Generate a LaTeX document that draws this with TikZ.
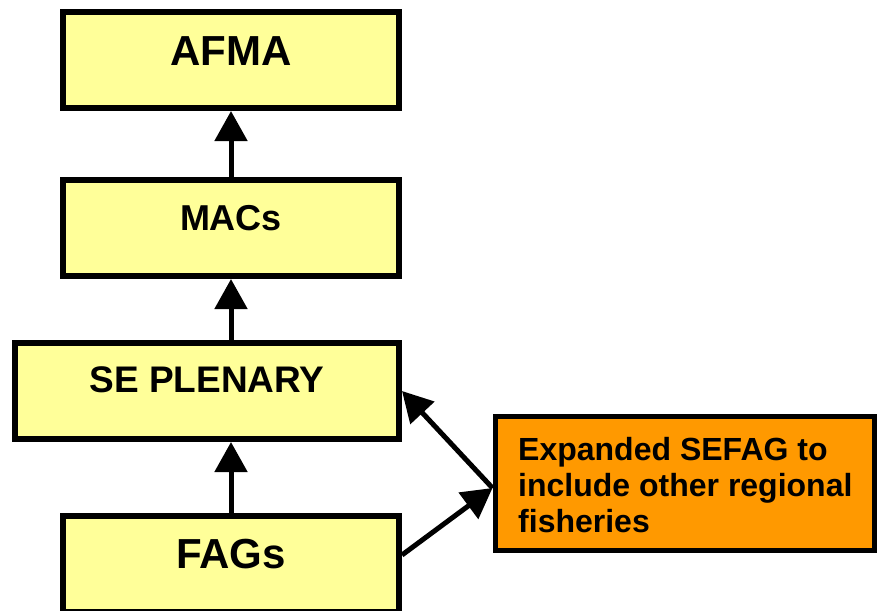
\documentclass[tikz,border=0pt]{standalone}
\usepackage{fontspec}
\setmainfont{Liberation Sans}
\usetikzlibrary{arrows.meta}
\definecolor{boxyellow}{HTML}{FFFF99}
\definecolor{boxorange}{HTML}{FF9900}
\begin{document}
\begin{tikzpicture}[x=1pt,y=-1pt,
 ybox/.style={draw=black, line width=6pt, fill=boxyellow, rectangle, inner sep=0pt},
 obox/.style={draw=black, line width=5pt, fill=boxorange, rectangle, inner sep=0pt},
 lbl/.style={anchor=base, inner sep=0pt},
 conn/.style={line width=5pt, -{Triangle[length=30pt,width=32pt]}}
]
\useasboundingbox (0,0) rectangle (877,610);
\node[ybox, minimum width=336pt, minimum height=96pt] (AFMA) at (231,60) {};
\node[ybox, minimum width=336pt, minimum height=96pt] (MACs) at (231,228) {};
\node[ybox, minimum width=384pt, minimum height=96pt] (SE) at (207,391) {};
\node[ybox, minimum width=336pt, minimum height=96pt] (FAGs) at (231,564) {};
\node[obox, minimum width=379pt, minimum height=134pt] (O) at (684.5,483) {};

\node[lbl, font=\fontsize{42}{50}\selectfont\bfseries] (tAFMA) at (231,65) {AFMA};
\node[lbl, font=\fontsize{36}{43}\selectfont\bfseries] (tMACs) at (231,230) {MACs};
\node[lbl, font=\fontsize{37}{44}\selectfont\bfseries] (tSE) at (207,392) {SE PLENARY};
\node[lbl, font=\fontsize{42}{50}\selectfont\bfseries] (tFAGs) at (231,568) {FAGs};
\node[anchor=north west, inner sep=0pt, align=left, font=\fontsize{32}{36}\selectfont\bfseries] (tO) at (518,437)
 {Expanded SEFAG to\\include other regional\\fisheries};

\draw[conn] (MACs.north) -- (AFMA.south);
\draw[conn] (MACs.south |- SE.north) -- (MACs.south);
\draw[conn] (FAGs.north) -- (FAGs.north |- SE.south);
\draw[conn] ([yshift=-5pt]O.west) -- (SE.east);
\draw[conn] ([yshift=9pt]FAGs.east) -- ([yshift=-5pt]O.west);
\end{tikzpicture}
\end{document}
